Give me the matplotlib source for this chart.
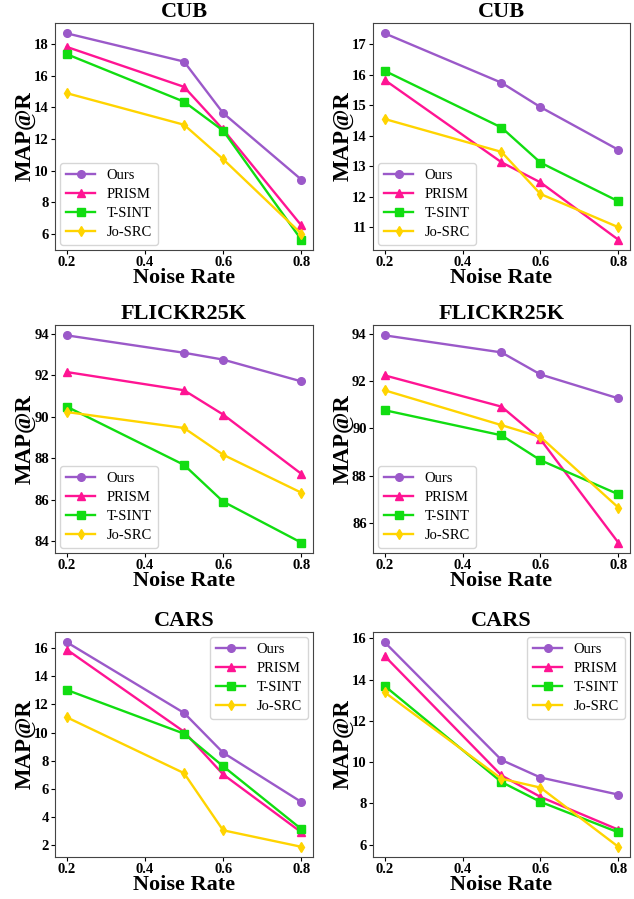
import matplotlib
matplotlib.use("Agg")
import matplotlib.pyplot as plt

plt.rcParams["font.family"] = ["Liberation Serif", "DejaVu Serif"]

# noise rates on the x axis
noise = [0.2, 0.5, 0.6, 0.8]
methods = ["Ours", "PRISM", "T-SINT", "Jo-SRC"]
titles = ["CUB", "CUB", "FLICKR25K", "FLICKR25K", "CARS", "CARS"]

# MAP@R values, one list per method for each panel
cub_a_ours = [18.69, 16.90, 13.64, 9.43]
cub_a_prism = [17.83, 15.30, 12.60, 6.53]
cub_a_tsint = [17.37, 14.36, 12.53, 5.62]
cub_a_josrc = [14.90, 12.90, 10.72, 6.00]

cub_b_ours = [17.36, 15.74, 14.94, 13.54]
cub_b_prism = [15.83, 13.13, 12.47, 10.59]
cub_b_tsint = [16.13, 14.27, 13.12, 11.85]
cub_b_josrc = [14.55, 13.47, 12.09, 11.00]

flickr_a_ours = [93.92, 93.08, 92.75, 91.70]
flickr_a_prism = [92.15, 91.27, 90.10, 87.24]
flickr_a_tsint = [90.48, 87.67, 85.90, 83.92]
flickr_a_josrc = [90.22, 89.45, 88.16, 86.33]

flickr_b_ours = [93.93, 93.21, 92.28, 91.27]
flickr_b_prism = [92.24, 90.92, 89.54, 85.18]
flickr_b_tsint = [90.77, 89.71, 88.66, 87.22]
flickr_b_josrc = [91.61, 90.14, 89.64, 86.66]

cars_a_ours = [16.40, 11.39, 8.57, 5.08]
cars_a_prism = [15.88, 10.06, 7.03, 2.93]
cars_a_tsint = [13.02, 9.92, 7.61, 3.16]
cars_a_josrc = [11.08, 7.12, 3.07, 1.90]

cars_b_ours = [15.81, 10.10, 9.25, 8.42]
cars_b_prism = [15.14, 9.35, 8.31, 6.72]
cars_b_tsint = [13.69, 9.03, 8.07, 6.59]
cars_b_josrc = [13.38, 9.19, 8.76, 5.89]

panels = [
    [cub_a_ours, cub_a_prism, cub_a_tsint, cub_a_josrc],
    [cub_b_ours, cub_b_prism, cub_b_tsint, cub_b_josrc],
    [flickr_a_ours, flickr_a_prism, flickr_a_tsint, flickr_a_josrc],
    [flickr_b_ours, flickr_b_prism, flickr_b_tsint, flickr_b_josrc],
    [cars_a_ours, cars_a_prism, cars_a_tsint, cars_a_josrc],
    [cars_b_ours, cars_b_prism, cars_b_tsint, cars_b_josrc],
]

colors = ["#9b59c9", "#ff1493", "#11dd11", "#ffd400"]
markers = ["o", "^", "s", "d"]
legend_loc = ["lower left", "lower left", "lower left", "lower left",
              "upper right", "upper right"]

fig = plt.figure(figsize=(6.34, 8.99), dpi=100)

# axes boxes in figure fractions: [left, bottom, width, height]
lefts = [0.0868, 0.5883]
widths = [0.4069, 0.4054]
bottoms = [0.7219, 0.3849, 0.0467]
heights = [0.2525, 0.2536, 0.2503]

for i, series in enumerate(panels):
    row, col = divmod(i, 2)
    ax = fig.add_axes([lefts[col], bottoms[row], widths[col], heights[row]])
    for name, vals, c, m in zip(methods, series, colors, markers):
        ax.plot(noise, vals, color=c, marker=m, markersize=5.5,
                linewidth=1.7, label=name)
    ax.set_title(titles[i], fontsize=16, fontweight="bold", pad=4)
    ax.set_xlabel("Noise Rate", fontsize=16, fontweight="bold", labelpad=-1)
    ax.set_ylabel("MAP@R", fontsize=16.5, fontweight="bold", labelpad=-1)
    ax.set_xticks([0.2, 0.4, 0.6, 0.8])
    ax.tick_params(length=3, pad=1.5)
    for lab in ax.get_xticklabels() + ax.get_yticklabels():
        lab.set_fontweight("bold")
        lab.set_fontsize(10.5)
    for sp in ax.spines.values():
        sp.set_color("#444444")
    ax.legend(loc=legend_loc[i], fontsize=10.5, borderaxespad=0.35,
              labelspacing=0.4)

fig.savefig("out.png", dpi=100)
